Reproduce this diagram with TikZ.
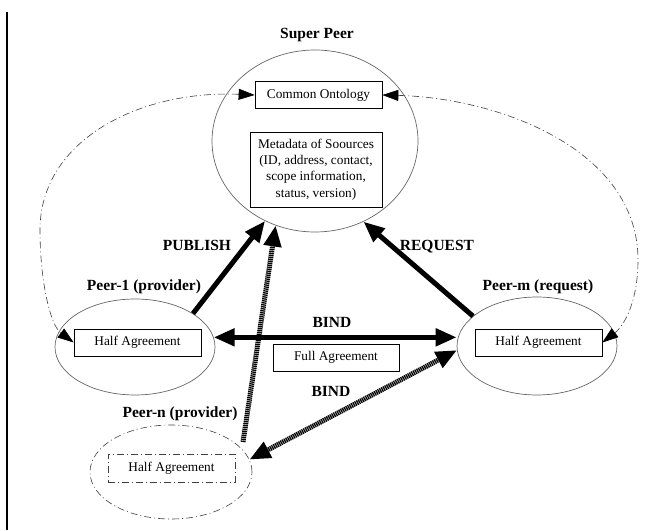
\documentclass[tikz,border=0pt]{standalone}
\usepackage{fontspec}
\setmainfont{Liberation Serif}
\usetikzlibrary{arrows.meta,shapes.geometric}

\begin{document}
\begin{tikzpicture}[x=1pt,y=1pt,
  peer/.style={ellipse, draw=black!60, line width=0.7pt, inner sep=0pt},
  box/.style={draw, line width=0.7pt, minimum width=127pt, minimum height=27pt,
    inner sep=0pt, align=center, font=\fontsize{13.3}{16.3}\selectfont},
  lbl/.style={font=\fontsize{15.5}{18}\selectfont\bfseries, anchor=base, inner sep=0pt},
  dashdot/.style={draw=black!75, line width=0.6pt, dash pattern=on 7pt off 3pt on 1pt off 3pt},
  heavy/.style={line width=5pt},
  hatched/.style={line width=5pt, dash pattern=on 1.3pt off 0.7pt},
  bigtip/.tip={Triangle[length=21pt,width=17pt,color=black]},
  smalltip/.tip={Triangle[length=16pt,width=11pt,color=black]}
]
\useasboundingbox (0,0) rectangle (655,530);

% page rule on the left
\draw[line width=1.2pt] (7,0) -- (7,518);

% super peer
\node[peer, minimum width=206pt, minimum height=182pt] (SP) at (315,389) {};
\node[lbl] (SPl) at (317,491) {Super Peer};
\node[box] (CO) at (318.5,435) {Common Ontology};
\node[box, minimum width=132pt, minimum height=75pt] (MD) at (316,360.5)
  {Metadata of Soources\\(ID, address, contact,\\scope information,\\status, version)};

% peer 1
\node[peer, minimum width=160pt, minimum height=96pt] (P1) at (135,183) {};
\node[lbl] (P1l) at (144,239) {Peer-1 (provider)};
\node[box] (P1box) at (137.5,187.5) {Half Agreement};

% peer m
\node[peer, minimum width=160pt, minimum height=98pt] (Pm) at (537,184) {};
\node[lbl] (Pml) at (538,239) {Peer-m (request)};
\node[box] (Pmbox) at (538.5,187.5) {Half Agreement};

% peer n
\node[peer, dashdot, minimum width=162pt, minimum height=94pt] (Pn) at (171,58) {};
\node[lbl] (Pnl) at (180,113) {Peer-n (provider)};
\node[box, dashdot, minimum height=28pt] (Pnbox) at (171.5,62) {Half Agreement};

% full agreement
\node[box, minimum width=126pt] (FA) at (336,172.5) {Full Agreement};

% labels on the connectors
\node[lbl] (pub) at (197,279) {PUBLISH};
\node[lbl] (req) at (437,279) {REQUEST};
\node[lbl] (bind1) at (332,202) {BIND};
\node[lbl] (bind2) at (331,134) {BIND};

% ontology links
\draw[dashdot, smalltip-smalltip] (CO.west) .. controls (140,440) and (40,390) .. (40,300)
  .. controls (40,250) and (50,205) .. (P1box.west);
\draw[dashdot, smalltip-smalltip] (CO.east) .. controls (500,432) and (638,380) .. (638,270)
  .. controls (638,230) and (625,205) .. (Pmbox.east);

% publish / request / bind
\draw[heavy, -bigtip] (P1.30) -- (SP.238);
\draw[heavy, -bigtip] (Pm.155) -- (SP.301);
\draw[heavy, bigtip-bigtip] (P1.7) -- (P1.7 -| Pm.west);

% peer n links
\coordinate (pnsrc) at (243,88);
\draw[hatched, -bigtip] (pnsrc) -- (SP.245);
\draw[hatched, bigtip-bigtip] (Pm.183) -- (Pn.9);
\end{tikzpicture}
\end{document}
